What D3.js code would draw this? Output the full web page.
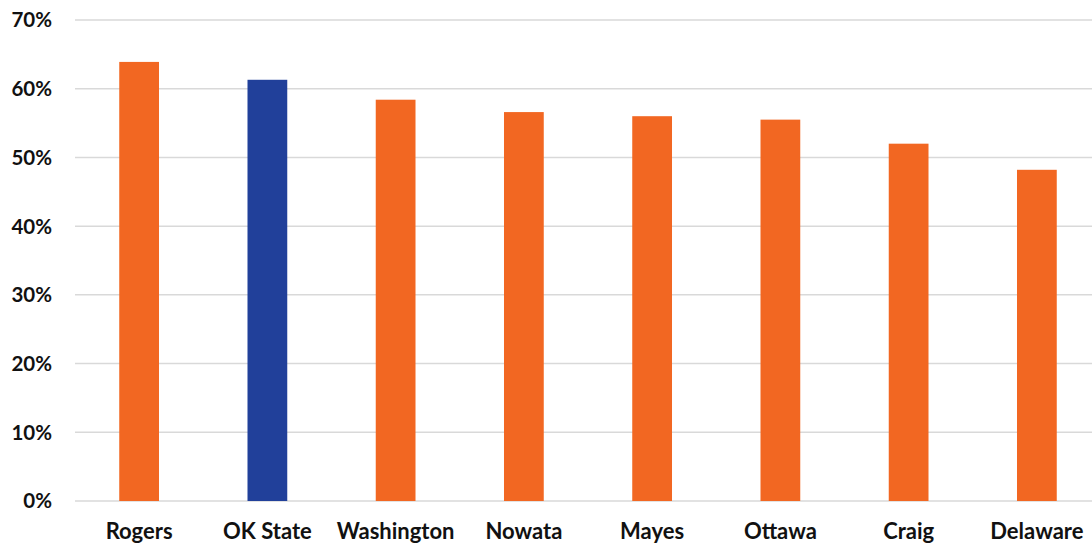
<!DOCTYPE html>
<meta charset="utf-8">
<style>
body { margin: 0; background: #fff; }
.grid line { stroke: #d9d9d9; stroke-width: 1.5px; }
text { font-family: Lato, "Open Sans", sans-serif; font-weight: bold; fill: #111; }
</style>
<body>
<svg width="1092" height="544"></svg>
<script src="https://d3js.org/d3.v7.min.js"></script>
<script>

var counties = ["Rogers", "OK State", "Washington", "Nowata", "Mayes", "Ottawa", "Craig", "Delaware"];
var shares = [0.639, 0.613, 0.584, 0.566, 0.560, 0.555, 0.520, 0.482];
var highlight = ["OK State"];
var yTicks = [0, 0.1, 0.2, 0.3, 0.4, 0.5, 0.6, 0.7];

var svg = d3.select("svg");

var x = d3.scaleBand()
    .domain(counties)
    .range([75, 1101])
    .paddingInner(0.69)
    .paddingOuter(0.345);

var y = d3.scaleLinear()
    .domain([0, 0.7])
    .range([501, 20]);

// gridlines
svg.append("g")
    .attr("class", "grid")
  .selectAll("line")
  .data(yTicks)
  .enter().append("line")
    .attr("x1", 75)
    .attr("x2", 1101)
    .attr("y1", function(d) { return y(d); })
    .attr("y2", function(d) { return y(d); });

// y labels
svg.append("g")
  .selectAll("text")
  .data(yTicks)
  .enter().append("text")
    .attr("x", 52)
    .attr("y", function(d) { return y(d); })
    .attr("dy", "0.36em")
    .attr("text-anchor", "end")
    .attr("font-size", "20.5px")
    .text(d3.format(".0%"));

// bars
svg.append("g")
  .selectAll("rect")
  .data(counties)
  .enter().append("rect")
    .attr("x", function(d) { return x(d); })
    .attr("width", x.bandwidth())
    .attr("y", function(d, i) { return y(shares[i]); })
    .attr("height", function(d, i) { return y(0) - y(shares[i]); })
    .attr("fill", function(d) { return highlight.indexOf(d) >= 0 ? "#21409a" : "#f26722"; });

// x labels
svg.append("g")
  .selectAll("text")
  .data(counties)
  .enter().append("text")
    .attr("x", function(d) { return x(d) + x.bandwidth() / 2; })
    .attr("y", 539)
    .attr("text-anchor", "middle")
    .attr("font-size", "22px")
    .text(function(d) { return d; });

</script>
</body>
